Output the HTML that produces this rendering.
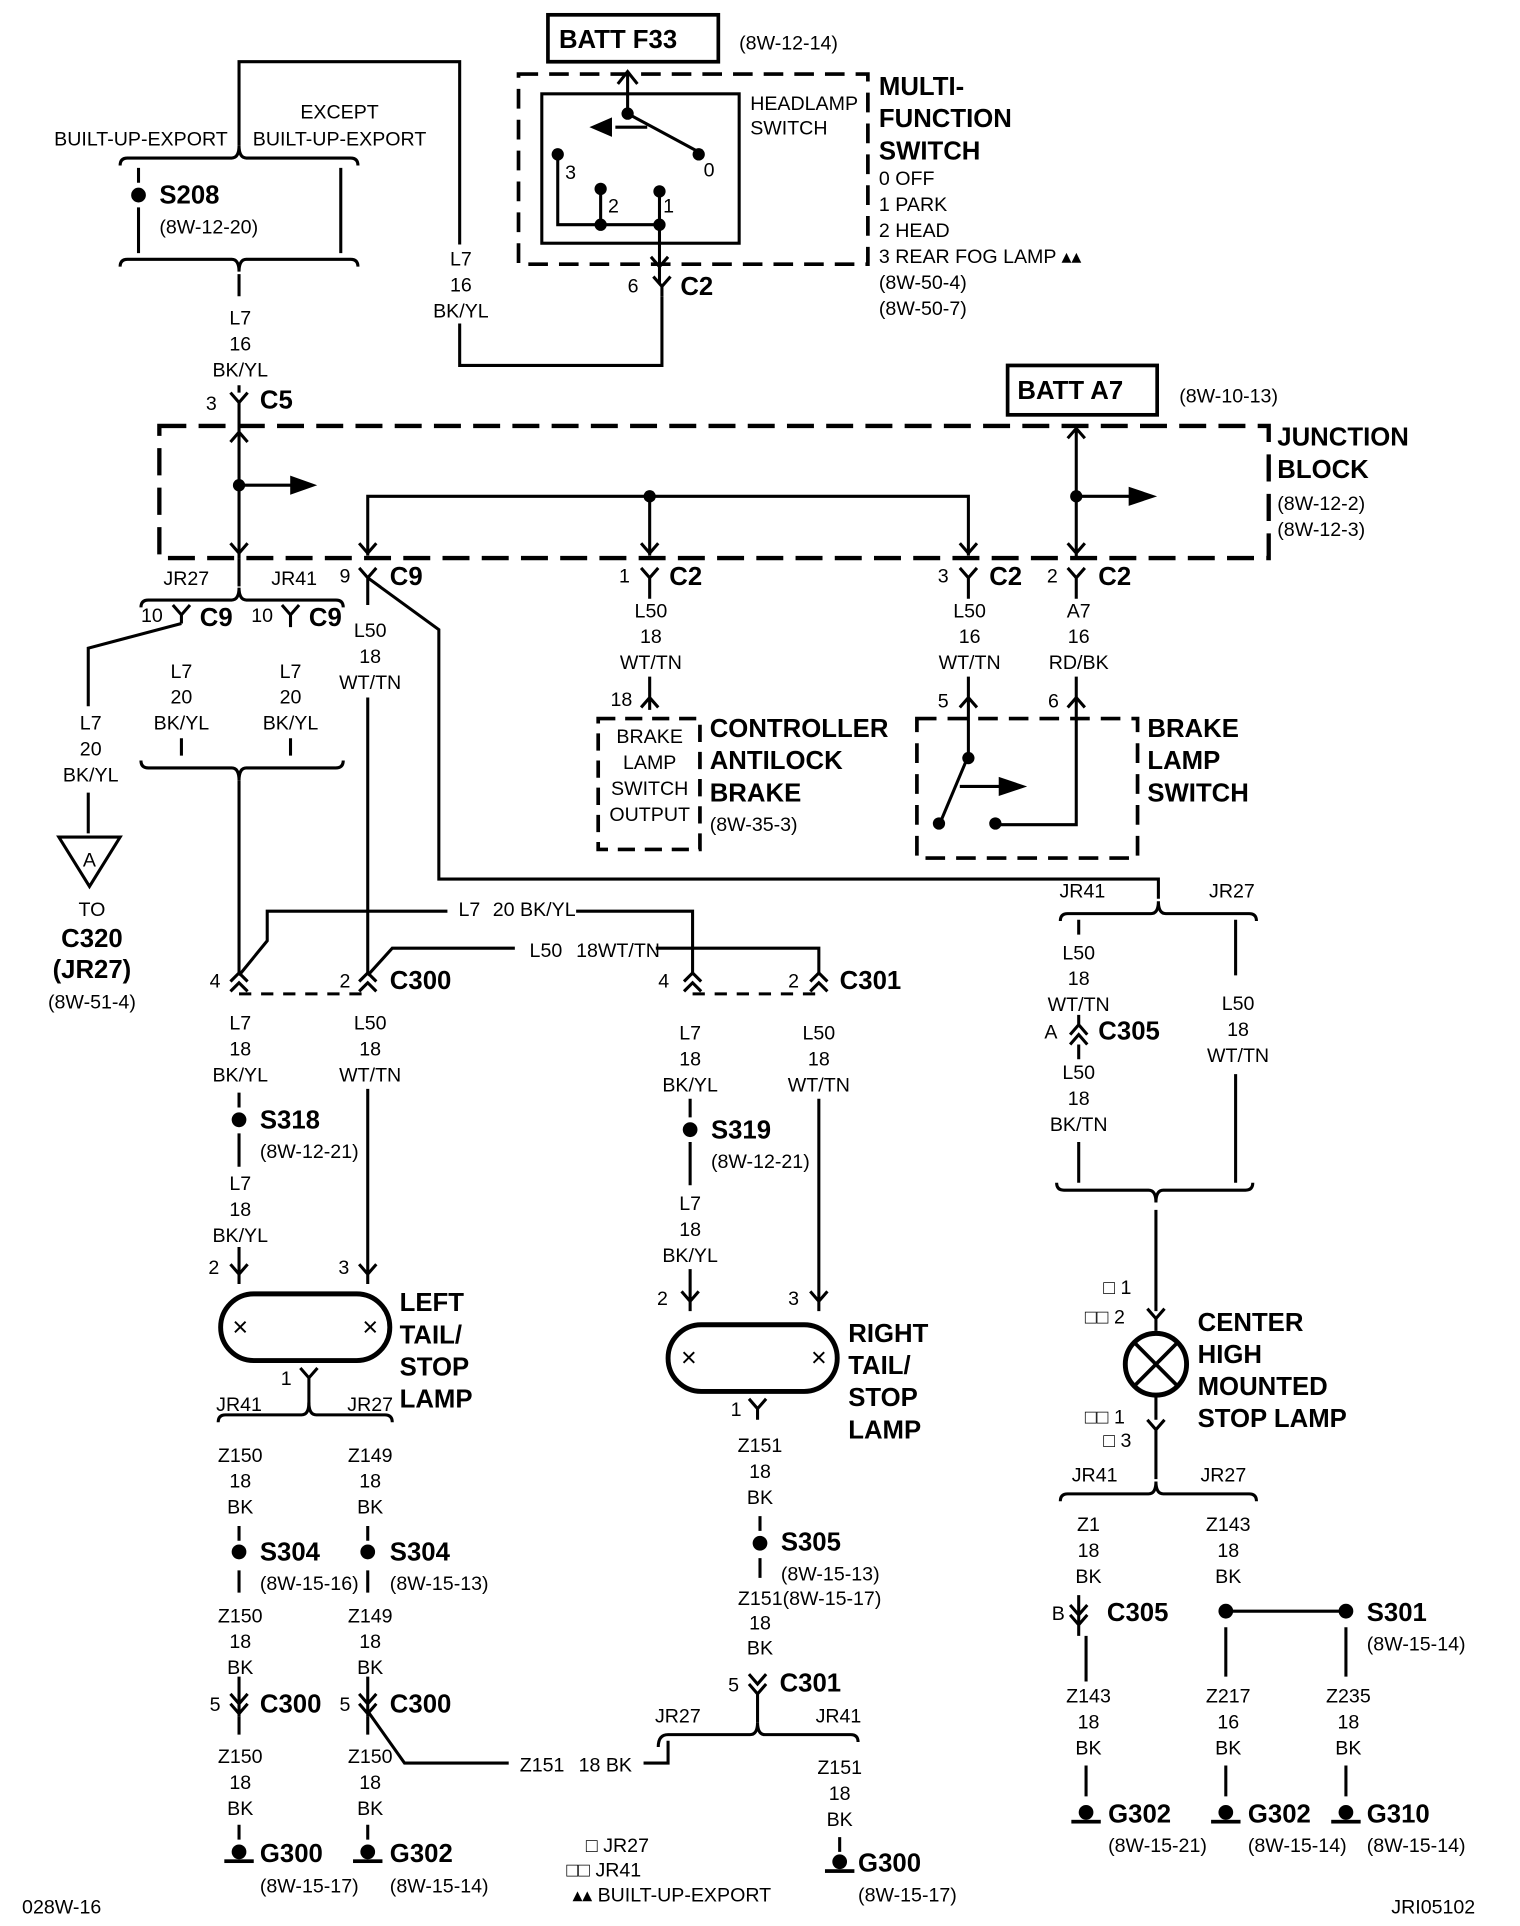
<!DOCTYPE html>
<html><head><meta charset="utf-8"><style>
html,body{margin:0;padding:0;background:#fff}
svg{display:block}
text{font-family:"Liberation Sans Narrow","Liberation Sans",sans-serif;fill:#000}
.s{font-size:16px;text-anchor:middle}
.l{font-size:16px}
.b{font-size:21px;font-weight:bold}
</style></head><body>
<svg width="1520" height="1926" viewBox="0 0 1240 1560" preserveAspectRatio="none" xmlns="http://www.w3.org/2000/svg">
<g fill="none" stroke="#000" stroke-width="2.5">
<path d="M195 118V50H375V198M375 262V296H540V240"/>
<path d="M98 216Q98 210 104 210H189Q195 210 195 220Q195 210 201 210H286Q292 210 292 216"/>
<path d="M98 134Q98 128 104 128H189Q195 128 195 118Q195 128 201 128H286Q292 128 292 134"/>
<path d="M113 136V148M113 168V205M278 136V205"/>
<path d="M195 222V240M195 312V318"/>
<path d="M188 318L195 326L202 318M195 326V345"/>
<rect x="447" y="12" width="139" height="38" stroke-width="3"/>
<rect x="822" y="296" width="122" height="40" stroke-width="3"/>
<rect x="423" y="60" width="285" height="154" stroke-dasharray="16,9" stroke-width="3"/>
<rect x="442" y="76" width="161" height="121"/>
<rect x="130" y="345" width="905" height="107" stroke-dasharray="22,10" stroke-width="3.5"/>
<path d="M512 92V58M504 68L512 58L520 68"/>
<path d="M512 92L568 122"/>
<path d="M528 103H502M484 103L498 97V109Z" fill="#000"/>
<path d="M455 125V182H538M490 153V182M538 155V230"/>
<path d="M531 208L538 216L545 208"/>
<path d="M533 224L540 232L547 224M540 232V240"/>
<path d="M195 345V452M188 358L195 350L202 358M188 440L195 448L202 440"/>
<path d="M195 393H240"/><path d="M255 393L238 387V399Z" fill="#000"/>
<path d="M300 450V402H790V450M530 402V450"/>
<path d="M293 440L300 448L307 440M523 440L530 448L537 440M783 440L790 448L797 440"/>
<path d="M878 345V452M871 355L878 347L885 355M871 440L878 448L885 440"/>
<path d="M878 402H925"/><path d="M940 402L922 396V408Z" fill="#000"/>
<path d="M195 452V475"/>
<path d="M115 492Q115 486 121 486H189Q195 486 195 476Q195 486 201 486H274Q280 486 280 492"/>
<path d="M141 490L148 498L155 490M148 498V505M148 505L72 525V572M72 642V675M230 490L237 498L244 490M237 498V508"/>
<path d="M148 598V612M237 598V612"/>
<path d="M115 616Q115 622 121 622H189Q195 622 195 632Q195 622 201 622H274Q280 622 280 616"/>
<path d="M195 632V790"/>
<path d="M48 678H98L73 718Z"/>
<path d="M293 460L300 468L307 460M300 468V490M300 565V790"/>
<path d="M300 468L358 510V712H945V728"/>
<path d="M865 746Q865 740 871 740H939Q945 740 945 730Q945 740 951 740H1019Q1025 740 1025 746"/>
<path d="M523 460L530 468L537 460M530 468V485M530 548V575M523 573L530 565L537 573"/>
<rect x="488" y="582" width="83" height="106" stroke-dasharray="14,8" stroke-width="3"/>
<path d="M783 460L790 468L797 460M790 468V485M790 548V612M783 573L790 565L797 573"/>
<path d="M871 460L878 468L885 460M878 468V485M878 548V668H812"/>
<path d="M871 573L878 565L885 573"/>
<rect x="748" y="582" width="180" height="113" stroke-dasharray="16,9" stroke-width="3"/>
<path d="M790 612L768 664"/>
<path d="M783 637H818"/><path d="M834 637L816 631V643Z" fill="#000"/>
<path d="M195 790L218 762V738H365M470 738H565V790"/>
<path d="M300 790L320 768H420M535 768H668V790"/>
<path d="M188 795L195 788L202 795M188 803L195 796L202 803M293 795L300 788L307 795M293 803L300 796L307 803"/>
<path d="M558 795L565 788L572 795M558 803L565 796L572 803M661 795L668 788L675 795M661 803L668 796L675 803"/>
<path d="M195 805H300M565 805H668" stroke-dasharray="10,8"/>
<path d="M195 885V897M195 918V945M195 1010V1030M188 1024L195 1032L202 1024M195 1032V1040"/>
<path d="M300 882V1030M293 1024L300 1032L307 1024M300 1032V1040"/>
<rect x="180" y="1048" width="138" height="54" rx="27" stroke-width="4"/>
<path d="M245 1108L252 1116L259 1108M252 1116V1140"/>
<path d="M178 1152Q178 1146 184 1146H246Q252 1146 252 1136Q252 1146 258 1146H314Q320 1146 320 1152"/>
<path d="M195 1236V1248M300 1236V1248M195 1272V1290M300 1272V1290"/>
<path d="M195 1358V1390M188 1372L195 1380L202 1372M188 1380L195 1388L202 1380"/>
<path d="M300 1358V1390M293 1372L300 1380L307 1372M293 1380L300 1388L307 1380M300 1386L330 1428H415"/>
<path d="M195 1478V1490M300 1478V1490"/>
<path d="M195 1390V1405M300 1390V1405"/>
<path d="M563 890V905M563 925V960M563 1028V1052M556 1046L563 1054L570 1046M563 1054V1062"/>
<path d="M668 890V1052M661 1046L668 1054L675 1046M668 1054V1062"/>
<rect x="545" y="1073" width="138" height="54" rx="27" stroke-width="4"/>
<path d="M611 1133L618 1141L625 1133M618 1141V1150"/>
<path d="M620 1228V1240M620 1262V1278"/>
<path d="M611 1356L618 1364L625 1356M611 1364L618 1372L625 1364M618 1372V1395"/>
<path d="M537 1415Q537 1405 545 1405H612Q618 1405 618 1395Q618 1405 624 1405H694Q700 1405 700 1411"/>
<path d="M525 1428H545V1410M685 1488V1500"/>
<path d="M880 745V757M880 822V832M873 838L880 830L887 838M873 846L880 838L887 846M880 846V858M880 925V958"/>
<path d="M1008 745V790M1008 870V958"/>
<path d="M862 958Q862 964 868 964H937Q943 964 943 974Q943 964 949 964H1016Q1022 964 1022 958"/>
<path d="M943 980V1062M936 1060L943 1068L950 1060M943 1068V1078"/>
<circle cx="943" cy="1105" r="25" stroke-width="4"/>
<path d="M925 1087L961 1123M961 1087L925 1123" stroke-width="3"/>
<path d="M943 1130V1150M936 1150L943 1158L950 1150M943 1158V1198"/>
<path d="M865 1216Q865 1210 871 1210H937Q943 1210 943 1200Q943 1210 949 1210H1019Q1025 1210 1025 1216"/>
<path d="M880 1292V1325M873 1300L880 1308L887 1300M873 1308L880 1316L887 1308M886 1325V1362"/>
<path d="M1000 1305H1098M1000 1318V1358M1098 1318V1358"/>
<path d="M886 1430V1455M1000 1430V1455M1098 1430V1455"/>
</g>
<g fill="#000">
<circle cx="113" cy="158" r="6"/>
<circle cx="512" cy="92" r="5"/><circle cx="570" cy="125" r="5"/><circle cx="455" cy="125" r="5"/>
<circle cx="490" cy="153" r="5"/><circle cx="538" cy="155" r="5"/><circle cx="490" cy="182" r="5"/><circle cx="538" cy="182" r="5"/>
<circle cx="195" cy="393" r="5"/><circle cx="530" cy="402" r="5"/><circle cx="878" cy="402" r="5"/>
<circle cx="790" cy="614" r="5"/><circle cx="766" cy="667" r="5"/><circle cx="812" cy="667" r="5"/>
<circle cx="195" cy="907" r="6"/><circle cx="563" cy="915" r="6"/>
<circle cx="195" cy="1257" r="6"/><circle cx="300" cy="1257" r="6"/><circle cx="620" cy="1250" r="6"/>
<circle cx="1000" cy="1305" r="6"/><circle cx="1098" cy="1305" r="6"/>
<circle cx="195" cy="1500" r="6"/><rect x="183" y="1506" width="24" height="3"/>
<circle cx="300" cy="1500" r="6"/><rect x="288" y="1506" width="24" height="3"/>
<circle cx="685" cy="1508" r="6"/><rect x="673" y="1514" width="24" height="3"/>
<circle cx="886" cy="1468" r="6"/><rect x="874" y="1474" width="24" height="3"/>
<circle cx="1000" cy="1468" r="6"/><rect x="988" y="1474" width="24" height="3"/>
<circle cx="1098" cy="1468" r="6"/><rect x="1086" y="1474" width="24" height="3"/>
</g>
<g font-size="22" text-anchor="middle" font-family="Liberation Sans"><text x="196" y="1082">×</text><text x="302" y="1082">×</text><text x="562" y="1107">×</text><text x="668" y="1107">×</text></g>

<text class="b" x="456" y="39">BATT F33</text>
<text class="l" x="603" y="40">(8W-12-14)</text>
<text class="l" x="612" y="89">HEADLAMP</text><text class="l" x="612" y="109">SWITCH</text>
<text class="l" x="461" y="145">3</text><text class="l" x="496" y="172">2</text><text class="l" x="541" y="172">1</text><text class="l" x="574" y="143">0</text>
<text class="b" x="717" y="77">MULTI-</text><text class="b" x="717" y="103">FUNCTION</text><text class="b" x="717" y="129">SWITCH</text>
<text class="l" x="717" y="150">0 OFF</text><text class="l" x="717" y="171">1 PARK</text><text class="l" x="717" y="192">2 HEAD</text>
<text class="l" x="717" y="213">3 REAR FOG LAMP ▴▴</text><text class="l" x="717" y="234">(8W-50-4)</text><text class="l" x="717" y="255">(8W-50-7)</text>
<text class="l" x="512" y="237">6</text><text class="b" x="555" y="239">C2</text>
<text class="s" x="376" y="215">L7</text><text class="s" x="376" y="236">16</text><text class="s" x="376" y="257">BK/YL</text>
<text class="s" x="115" y="118">BUILT-UP-EXPORT</text><text class="s" x="277" y="96">EXCEPT</text><text class="s" x="277" y="118">BUILT-UP-EXPORT</text>
<text class="b" x="130" y="165">S208</text><text class="l" x="130" y="189">(8W-12-20)</text>
<text class="s" x="196" y="263">L7</text><text class="s" x="196" y="284">16</text><text class="s" x="196" y="305">BK/YL</text>
<text class="l" x="168" y="332">3</text><text class="b" x="212" y="331">C5</text>
<text class="b" x="830" y="323">BATT A7</text><text class="l" x="962" y="326">(8W-10-13)</text>
<text class="b" x="1042" y="361">JUNCTION</text><text class="b" x="1042" y="387">BLOCK</text>
<text class="l" x="1042" y="413">(8W-12-2)</text><text class="l" x="1042" y="434">(8W-12-3)</text>
<text class="s" x="152" y="474">JR27</text><text class="s" x="240" y="474">JR41</text>
<text class="l" x="115" y="504">10</text><text class="b" x="163" y="507">C9</text>
<text class="l" x="205" y="504">10</text><text class="b" x="252" y="507">C9</text>
<text class="l" x="277" y="472">9</text><text class="b" x="318" y="474">C9</text>
<text class="s" x="148" y="549">L7</text><text class="s" x="148" y="570">20</text><text class="s" x="148" y="591">BK/YL</text>
<text class="s" x="237" y="549">L7</text><text class="s" x="237" y="570">20</text><text class="s" x="237" y="591">BK/YL</text>
<text class="s" x="74" y="591">L7</text><text class="s" x="74" y="612">20</text><text class="s" x="74" y="633">BK/YL</text>
<text class="s" x="73" y="702">A</text>
<text class="s" x="75" y="742">TO</text>
<text class="b" x="75" y="767" text-anchor="middle">C320</text><text class="b" x="75" y="792" text-anchor="middle">(JR27)</text>
<text class="s" x="75" y="817">(8W-51-4)</text>
<text class="s" x="302" y="516">L50</text><text class="s" x="302" y="537">18</text><text class="s" x="302" y="558">WT/TN</text>
<text class="l" x="505" y="472">1</text><text class="b" x="546" y="474">C2</text>
<text class="s" x="531" y="500">L50</text><text class="s" x="531" y="521">18</text><text class="s" x="531" y="542">WT/TN</text>
<text class="l" x="498" y="572">18</text>
<text class="s" x="530" y="602">BRAKE</text><text class="s" x="530" y="623">LAMP</text><text class="s" x="530" y="644">SWITCH</text><text class="s" x="530" y="665">OUTPUT</text>
<text class="b" x="579" y="597">CONTROLLER</text><text class="b" x="579" y="623">ANTILOCK</text><text class="b" x="579" y="649">BRAKE</text>
<text class="l" x="579" y="673">(8W-35-3)</text>
<text class="l" x="765" y="472">3</text><text class="b" x="807" y="474">C2</text>
<text class="l" x="854" y="472">2</text><text class="b" x="896" y="474">C2</text>
<text class="s" x="791" y="500">L50</text><text class="s" x="791" y="521">16</text><text class="s" x="791" y="542">WT/TN</text>
<text class="s" x="880" y="500">A7</text><text class="s" x="880" y="521">16</text><text class="s" x="880" y="542">RD/BK</text>
<text class="l" x="765" y="573">5</text><text class="l" x="855" y="573">6</text>
<text class="b" x="936" y="597">BRAKE</text><text class="b" x="936" y="623">LAMP</text><text class="b" x="936" y="649">SWITCH</text>
<text class="s" x="883" y="727">JR41</text><text class="s" x="1005" y="727">JR27</text>
<text class="s" x="880" y="777">L50</text><text class="s" x="880" y="798">18</text><text class="s" x="880" y="819">WT/TN</text>
<text class="l" x="852" y="841">A</text><text class="b" x="896" y="842">C305</text>
<text class="s" x="880" y="874">L50</text><text class="s" x="880" y="895">18</text><text class="s" x="880" y="916">BK/TN</text>
<text class="s" x="1010" y="818">L50</text><text class="s" x="1010" y="839">18</text><text class="s" x="1010" y="860">WT/TN</text>
<text class="l" x="374" y="742">L7</text><text class="l" x="402" y="742">20 BK/YL</text>
<text class="l" x="432" y="775">L50</text><text class="l" x="470" y="775">18WT/TN</text>
<text class="l" x="171" y="800">4</text><text class="l" x="277" y="800">2</text><text class="b" x="318" y="801">C300</text>
<text class="l" x="537" y="800">4</text><text class="l" x="643" y="800">2</text><text class="b" x="685" y="801">C301</text>
<text class="s" x="196" y="834">L7</text><text class="s" x="196" y="855">18</text><text class="s" x="196" y="876">BK/YL</text>
<text class="s" x="302" y="834">L50</text><text class="s" x="302" y="855">18</text><text class="s" x="302" y="876">WT/TN</text>
<text class="b" x="212" y="914">S318</text><text class="l" x="212" y="938">(8W-12-21)</text>
<text class="s" x="196" y="964">L7</text><text class="s" x="196" y="985">18</text><text class="s" x="196" y="1006">BK/YL</text>
<text class="l" x="170" y="1032">2</text><text class="l" x="276" y="1032">3</text>
<text class="b" x="326" y="1062">LEFT</text><text class="b" x="326" y="1088">TAIL/</text><text class="b" x="326" y="1114">STOP</text><text class="b" x="326" y="1140">LAMP</text>
<text class="l" x="229" y="1122">1</text>
<text class="s" x="195" y="1143">JR41</text><text class="s" x="302" y="1143">JR27</text>
<text class="s" x="196" y="1184">Z150</text><text class="s" x="196" y="1205">18</text><text class="s" x="196" y="1226">BK</text>
<text class="s" x="302" y="1184">Z149</text><text class="s" x="302" y="1205">18</text><text class="s" x="302" y="1226">BK</text>
<text class="b" x="212" y="1264">S304</text><text class="l" x="212" y="1288">(8W-15-16)</text>
<text class="b" x="318" y="1264">S304</text><text class="l" x="318" y="1288">(8W-15-13)</text>
<text class="s" x="196" y="1314">Z150</text><text class="s" x="196" y="1335">18</text><text class="s" x="196" y="1356">BK</text>
<text class="s" x="302" y="1314">Z149</text><text class="s" x="302" y="1335">18</text><text class="s" x="302" y="1356">BK</text>
<text class="l" x="171" y="1386">5</text><text class="b" x="212" y="1387">C300</text>
<text class="l" x="277" y="1386">5</text><text class="b" x="318" y="1387">C300</text>
<text class="s" x="196" y="1428">Z150</text><text class="s" x="196" y="1449">18</text><text class="s" x="196" y="1470">BK</text>
<text class="s" x="302" y="1428">Z150</text><text class="s" x="302" y="1449">18</text><text class="s" x="302" y="1470">BK</text>
<text class="l" x="424" y="1435">Z151</text><text class="l" x="472" y="1435">18 BK</text>
<text class="b" x="212" y="1508">G300</text><text class="l" x="212" y="1533">(8W-15-17)</text>
<text class="b" x="318" y="1508">G302</text><text class="l" x="318" y="1533">(8W-15-14)</text>
<text class="s" x="563" y="842">L7</text><text class="s" x="563" y="863">18</text><text class="s" x="563" y="884">BK/YL</text>
<text class="s" x="668" y="842">L50</text><text class="s" x="668" y="863">18</text><text class="s" x="668" y="884">WT/TN</text>
<text class="b" x="580" y="922">S319</text><text class="l" x="580" y="946">(8W-12-21)</text>
<text class="s" x="563" y="980">L7</text><text class="s" x="563" y="1001">18</text><text class="s" x="563" y="1022">BK/YL</text>
<text class="l" x="536" y="1057">2</text><text class="l" x="643" y="1057">3</text>
<text class="b" x="692" y="1087">RIGHT</text><text class="b" x="692" y="1113">TAIL/</text><text class="b" x="692" y="1139">STOP</text><text class="b" x="692" y="1165">LAMP</text>
<text class="l" x="596" y="1147">1</text>
<text class="s" x="620" y="1176">Z151</text><text class="s" x="620" y="1197">18</text><text class="s" x="620" y="1218">BK</text>
<text class="b" x="637" y="1256">S305</text><text class="l" x="637" y="1280">(8W-15-13)</text>
<text class="l" x="602" y="1300">Z151(8W-15-17)</text>
<text class="s" x="620" y="1320">18</text><text class="s" x="620" y="1340">BK</text>
<text class="l" x="594" y="1370">5</text><text class="b" x="636" y="1370">C301</text>
<text class="s" x="553" y="1395">JR27</text><text class="s" x="684" y="1395">JR41</text>
<text class="s" x="685" y="1437">Z151</text><text class="s" x="685" y="1458">18</text><text class="s" x="685" y="1479">BK</text>
<text class="b" x="700" y="1516">G300</text><text class="l" x="700" y="1540">(8W-15-17)</text>
<text class="l" x="478" y="1500">□ JR27</text><text class="l" x="462" y="1520">□□ JR41</text><text class="l" x="467" y="1540">▴▴ BUILT-UP-EXPORT</text>
<text class="l" x="18" y="1550">028W-16</text><text class="l" x="1135" y="1550">JRI05102</text>
<text class="l" x="900" y="1048">□ 1</text><text class="l" x="885" y="1072">□□ 2</text>
<text class="b" x="977" y="1078">CENTER</text><text class="b" x="977" y="1104">HIGH</text><text class="b" x="977" y="1130">MOUNTED</text><text class="b" x="977" y="1156">STOP LAMP</text>
<text class="l" x="885" y="1153">□□ 1</text><text class="l" x="900" y="1172">□ 3</text>
<text class="s" x="893" y="1200">JR41</text><text class="s" x="998" y="1200">JR27</text>
<text class="s" x="888" y="1240">Z1</text><text class="s" x="888" y="1261">18</text><text class="s" x="888" y="1282">BK</text>
<text class="s" x="1002" y="1240">Z143</text><text class="s" x="1002" y="1261">18</text><text class="s" x="1002" y="1282">BK</text>
<text class="l" x="858" y="1312">B</text><text class="b" x="903" y="1313">C305</text>
<text class="b" x="1115" y="1313">S301</text><text class="l" x="1115" y="1337">(8W-15-14)</text>
<text class="s" x="888" y="1379">Z143</text><text class="s" x="888" y="1400">18</text><text class="s" x="888" y="1421">BK</text>
<text class="s" x="1002" y="1379">Z217</text><text class="s" x="1002" y="1400">16</text><text class="s" x="1002" y="1421">BK</text>
<text class="s" x="1100" y="1379">Z235</text><text class="s" x="1100" y="1400">18</text><text class="s" x="1100" y="1421">BK</text>
<text class="b" x="904" y="1476">G302</text><text class="l" x="904" y="1500">(8W-15-21)</text>
<text class="b" x="1018" y="1476">G302</text><text class="l" x="1018" y="1500">(8W-15-14)</text>
<text class="b" x="1115" y="1476">G310</text><text class="l" x="1115" y="1500">(8W-15-14)</text>
</svg>
</body></html>
